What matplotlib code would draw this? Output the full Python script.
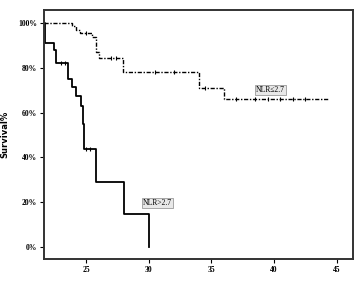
import matplotlib
matplotlib.use("Agg")
import matplotlib.pyplot as plt

# survival curve, NLR>2.7 (solid)
high_t = [21.65, 21.75, 22.45, 22.6, 23.6, 23.9, 24.2, 24.6, 24.76, 24.84, 25.8, 28.0, 30.05]
high_s = [100, 91, 88, 82, 75, 71.4, 67.4, 63, 55, 43.75, 29.2, 14.6, 0]
high_cens_t = [23.0, 23.3, 25.0, 25.3]
high_cens_s = [82, 82, 43.75, 43.75]

# survival curve, NLR<=2.7 (dash-dot)
low_t = [21.65, 23.9, 24.2, 24.5, 25.5, 25.8, 26.0, 27.95, 33.98, 35.97, 44.3]
low_s = [100, 98.5, 97, 95.5, 93.75, 87, 84.4, 78.1, 71, 65.9, 65.9]
low_cens_t = [25.0, 27.0, 27.4, 30.5, 32.0, 34.5, 37.0, 38.5, 39.5, 40.5, 41.5, 42.5]
low_cens_s = [95.5, 84.4, 84.4, 78.1, 78.1, 71, 65.9, 65.9, 65.9, 65.9, 65.9, 65.9]

x_ticks = [25, 30, 35, 40, 45]
y_ticks = [0, 20, 40, 60, 80, 100]

fig = plt.figure(figsize=(3.64, 2.86), dpi=100)
ax = fig.add_axes([0.121, 0.094, 0.849, 0.871])

ax.step(high_t, high_s, where="post", color="k", lw=1.3)
ax.plot(high_cens_t, high_cens_s, ls="none", marker="|", ms=3, mew=0.8, color="k")

ax.step(low_t, low_s, where="post", color="k", lw=1.0, ls=(0, (3, 1.2, 1, 1.2)))
ax.plot(low_cens_t, low_cens_s, ls="none", marker="|", ms=3, mew=0.8, color="k")

ax.set_xlim(21.65, 46.3)
ax.set_ylim(-5.4, 105.8)
ax.set_xticks(x_ticks)
ax.set_yticks(y_ticks)
ax.set_xticklabels([str(v) for v in x_ticks], fontfamily="Liberation Serif",
                   fontweight="bold", fontsize=5.5)
ax.set_yticklabels([f"{v}%" for v in y_ticks], fontfamily="Liberation Serif",
                   fontweight="bold", fontsize=5.5)
ax.tick_params(direction="out", length=3, width=0.8, pad=2)
ax.set_ylabel("Survival%", fontsize=6, fontweight="semibold", labelpad=6)

for s in ax.spines.values():
    s.set_linewidth(1.4)
    s.set_color("#333333")

box = dict(boxstyle="square,pad=0.15", fc="#e8e8e8", ec="#888888", lw=0.5)
ax.text(39.7, 70.0, "NLR\u22642.7", fontsize=5.5, fontfamily="Liberation Serif",
        ha="center", va="center", bbox=box)
ax.text(30.7, 19.6, "NLR>2.7", fontsize=5.5, fontfamily="Liberation Serif",
        ha="center", va="center", bbox=box)

fig.savefig("out.png", dpi=100)
